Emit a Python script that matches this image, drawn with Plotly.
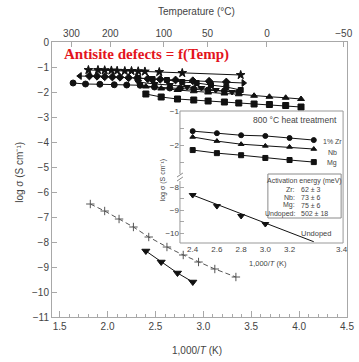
import plotly.graph_objects as go

# ---------------- main panel data: log conductivity vs 1000/T ----------------
star_x = [1.80, 1.90, 1.97, 2.04, 2.10, 2.18, 2.25, 2.32, 2.39, 2.54, 2.78, 3.39]
star_y = [-1.12, -1.12, -1.13, -1.14, -1.15, -1.16, -1.16, -1.17, -1.18, -1.20, -1.24, -1.32]

arrow_x = [1.71, 1.81, 1.89, 1.97, 2.05, 2.13, 2.22, 2.31, 2.42, 2.55, 2.71, 2.89, 3.06, 3.24, 3.42]
arrow_y = [-1.36, -1.36, -1.37, -1.39, -1.40, -1.41, -1.43, -1.44, -1.47, -1.49, -1.52, -1.55, -1.57, -1.60, -1.64]

circ_x = [1.64, 1.77, 1.92, 2.07, 2.20, 2.34, 2.49, 2.65, 2.76, 2.90, 3.05, 3.22, 3.37]
circ_y = [-1.64, -1.68, -1.69, -1.71, -1.72, -1.73, -1.80, -1.84, -1.85, -1.88, -1.92, -1.96, -2.00]

sq_hi_x = [2.32, 2.47, 2.62, 2.78, 2.93, 3.08, 3.24, 3.39]
sq_hi_y = [-1.44, -1.48, -1.52, -1.60, -1.64, -1.72, -1.80, -1.92]

tdown_x = [2.32, 2.49, 2.65, 2.83, 2.98, 3.13, 3.30]
tdown_y = [-1.60, -1.68, -1.72, -1.80, -1.84, -1.92, -2.00]

nb_x = [2.40, 2.56, 2.73, 2.90, 3.05, 3.22, 3.37, 3.53, 3.69, 3.86, 4.02]
nb_y = [-1.78, -1.86, -1.92, -1.97, -2.02, -2.06, -2.09, -2.15, -2.19, -2.23, -2.28]

mg_x = [2.40, 2.56, 2.73, 2.90, 3.05, 3.22, 3.37, 3.53, 3.69, 3.86, 4.02]
mg_y = [-2.08, -2.20, -2.28, -2.32, -2.36, -2.40, -2.44, -2.48, -2.50, -2.54, -2.60]

plus_x = [1.82, 1.97, 2.12, 2.27, 2.43, 2.62, 2.79, 2.95, 3.12, 3.34]
plus_y = [-6.48, -6.76, -7.08, -7.40, -7.80, -8.20, -8.52, -8.80, -9.08, -9.40]

undoped_x = [2.40, 2.56, 2.73, 2.89]
undoped_y = [-8.36, -8.80, -9.24, -9.60]

# top axis: temperature (°C) labels and their 1000/T positions
temp_labels = ["300", "200", "100", "50", "0", "\u221250"]
temp_pos = [1.623, 2.029, 2.587, 3.044, 3.664, 4.466]

# ---------------- inset data (800 °C heat treatment) ----------------
in_x = [2.4, 2.6, 2.8, 3.0, 3.2, 3.4]
zr_y = [-1.58, -1.64, -1.70, -1.72, -1.78, -1.84]
nbi_y = [-1.75, -1.87, -1.96, -2.01, -2.04, -2.10]
mgi_y = [-2.13, -2.22, -2.28, -2.36, -2.42, -2.48]
und_in_x = [2.4, 2.6, 2.8, 3.0]
und_in_y = [-8.35, -8.83, -9.26, -9.61]
und_fit_x = [2.4, 3.4]
und_fit_y = [-8.35, -10.38]
inset_xticks = [2.4, 2.6, 2.8, 3.0, 3.2, 3.63]
inset_xlabels = ["2.4", "2.6", "2.8", "3.0", "3.2", "3.4"]

act_rows = [("Zr:", "62 \u00b1 3"), ("Nb:", "73 \u00b1 6"), ("Mg:", "75 \u00b1 6"), ("Undoped:", "502 \u00b1 18")]

W, H = 359, 362
ML, MR, MT, MB = 52, 5, 42, 45
PW, PH = W - ML - MR, H - MT - MB


def px(x):
    return (x - ML) / PW


def py(y):
    return (H - MB - y) / PH


BLACK = "#111111"
AXC = "#a8a8a8"
TXT = "#444444"
FONT = "Liberation Sans, Arial, sans-serif"
NARROW = "Liberation Sans Narrow, Arial Narrow, Liberation Sans, sans-serif"

fig = go.Figure()


def series(x, y, symbol, size=6, xa="x", ya="y", dash="solid", color=BLACK, mode="lines+markers"):
    fig.add_trace(go.Scatter(
        x=x, y=y, mode=mode, xaxis=xa, yaxis=ya,
        line=dict(color=color, width=1, dash=dash),
        marker=dict(symbol=symbol, size=size, color=color,
                    line=dict(color=color, width=1)),
        hoverinfo="skip", showlegend=False))


series(star_x, star_y, "star", 6.5)
series(arrow_x, arrow_y, ["triangle-left"] + ["diamond"] * (len(arrow_x) - 2) + ["triangle-right"], 6)
series(circ_x, circ_y, "circle", 6)
series(sq_hi_x, sq_hi_y, "square", 5)
series(tdown_x, tdown_y, "triangle-down", 6)
series(nb_x, nb_y, "triangle-up", 6)
series(mg_x, mg_y, "square", 6)
series(plus_x, plus_y, "cross-thin", 6, dash="5px,3px", color="#555555")
series(undoped_x, undoped_y, "triangle-down", 7)

# invisible carrier so the temperature axis is rendered
fig.add_trace(go.Scatter(x=temp_pos, y=[-5] * len(temp_pos), xaxis="x2", yaxis="y",
                         mode="markers", marker=dict(opacity=0), hoverinfo="skip",
                         showlegend=False))

# inset traces
series(in_x, zr_y, "circle", 5, xa="x3", ya="y3")
series(in_x, nbi_y, "triangle-up", 5, xa="x3", ya="y3")
series(in_x, mgi_y, "square", 5, xa="x3", ya="y3")
series(und_in_x, und_in_y, "triangle-down", 6, xa="x3", ya="y4", mode="markers")
series(und_fit_x, und_fit_y, "circle", 1, xa="x3", ya="y4", mode="lines")

axis_common = dict(showgrid=False, zeroline=False, showline=True, linecolor=AXC,
                   linewidth=1, ticks="inside", tickcolor=AXC, tickfont=dict(size=10, color=TXT, family=FONT))

inset_y_common = dict(anchor="x3", showgrid=False, zeroline=False, showline=False,
                      ticks="inside", ticklen=4, tickcolor=AXC,
                      tickfont=dict(size=8, color=TXT, family=NARROW))

inset_dom_x = [px(183), px(350)]
fig.update_layout(
    width=W, height=H, margin=dict(l=ML, r=MR, t=MT, b=MB),
    paper_bgcolor="white", plot_bgcolor="white",
    font=dict(family=FONT, color=TXT),
    xaxis=dict(range=[1.42, 4.5], tick0=1.5, dtick=0.5, tickformat=".1f", ticklen=6,
               minor=dict(dtick=0.1, tick0=1.5, ticks="inside", ticklen=3, tickcolor=AXC),
               **axis_common),
    yaxis=dict(range=[-11, 0], dtick=1, ticklen=5, mirror=True, **axis_common),
    xaxis2=dict(overlaying="x", side="top", anchor="y", range=[1.42, 4.5],
                tickvals=temp_pos, ticktext=temp_labels, ticklen=5, **axis_common),
    xaxis3=dict(domain=inset_dom_x, anchor="y4", range=[2.295, 3.642],
                tickvals=inset_xticks, ticktext=inset_xlabels, showgrid=False, zeroline=False,
                showline=False, ticks="", tickfont=dict(size=8, color=TXT, family=NARROW)),
    yaxis3=dict(domain=[py(172), py(111)], range=[-2.768, -0.995],
                tickvals=[-1, -2], ticktext=["\u22121", "\u22122"],
                minor=dict(tickvals=[-1.5, -2.5], ticks="inside", ticklen=4, tickcolor=AXC),
                **inset_y_common),
    yaxis4=dict(domain=[py(243), py(183)], range=[-10.435, -7.826],
                tickvals=[-8, -9, -10], ticktext=["\u22128", "\u22129", "\u221210"],
                minor=dict(tickvals=[-8.5, -9.5], ticks="inside", ticklen=4, tickcolor=AXC),
                **inset_y_common),
)

shapes = [
    # inset frame
    dict(type="rect", xref="paper", yref="paper", x0=inset_dom_x[0], x1=inset_dom_x[1],
         y0=py(243), y1=py(111), line=dict(color="#999999", width=1), layer="above"),
    # axis break on the inset's left edge
    dict(type="rect", xref="paper", yref="paper", x0=px(181), x1=px(185), y0=py(181), y1=py(174),
         fillcolor="white", line=dict(width=0), layer="above"),
    dict(type="line", xref="paper", yref="paper", x0=px(180), y0=py(177), x1=px(186), y1=py(173),
         line=dict(color="#888888", width=1), layer="above"),
    dict(type="line", xref="paper", yref="paper", x0=px(180), y0=py(181), x1=px(186), y1=py(177),
         line=dict(color="#888888", width=1), layer="above"),
    # activation-energy box
    dict(type="rect", xref="paper", yref="paper", x0=px(273), x1=px(348), y0=py(218), y1=py(174),
         line=dict(color="#8a8a8a", width=1), fillcolor="white", layer="above"),
]

ann = []


def label(x, y, text, size=10, xanchor="center", angle=0, color=TXT, family=FONT, yanchor="middle"):
    ann.append(dict(x=px(x), y=py(y), xref="paper", yref="paper", text=text, showarrow=False,
                    xanchor=xanchor, yanchor=yanchor, textangle=angle,
                    font=dict(size=size, color=color, family=family)))


label(200, 12, "Temperature (\u00b0C)", 10, family=NARROW)
label(18, 172, "log \u03c3 (S cm\u207b\u00b9)", 10, angle=-90, family=NARROW)
label(200, 350, "1,000/<i>T</i> (K)", 10, family=NARROW)
label(62, 55, "<b>Antisite defects = f(Temp)</b>", 15, xanchor="left", color="#e3141c",
      family="Liberation Serif, DejaVu Serif, serif")

label(346, 120, "800 \u00b0C heat treatment", 8.5, xanchor="right", family=NARROW)
label(327, 141, "1% Zr", 7, xanchor="left", family=NARROW)
label(346, 152, "Nb", 7, xanchor="right", family=NARROW)
label(346, 163, "Mg", 7, xanchor="right", family=NARROW)
label(340, 233, "Undoped", 7.5, xanchor="right", family=NARROW)
label(166, 180, "log \u03c3 (S cm\u207b\u00b9)", 7, angle=-90, family=NARROW)
label(273, 263, "1,000/<i>T</i> (K)", 7.5, family=NARROW)

label(310.5, 181, "Activation energy (meV)", 7, family=NARROW)
for i, (name, val) in enumerate(act_rows):
    yy = 189.5 + 8 * i
    label(303, yy, name, 7, xanchor="right", family=NARROW)
    label(305, yy, val, 7, xanchor="left", family=NARROW)

fig.update_layout(shapes=shapes, annotations=ann)
fig.write_html("out.html")
